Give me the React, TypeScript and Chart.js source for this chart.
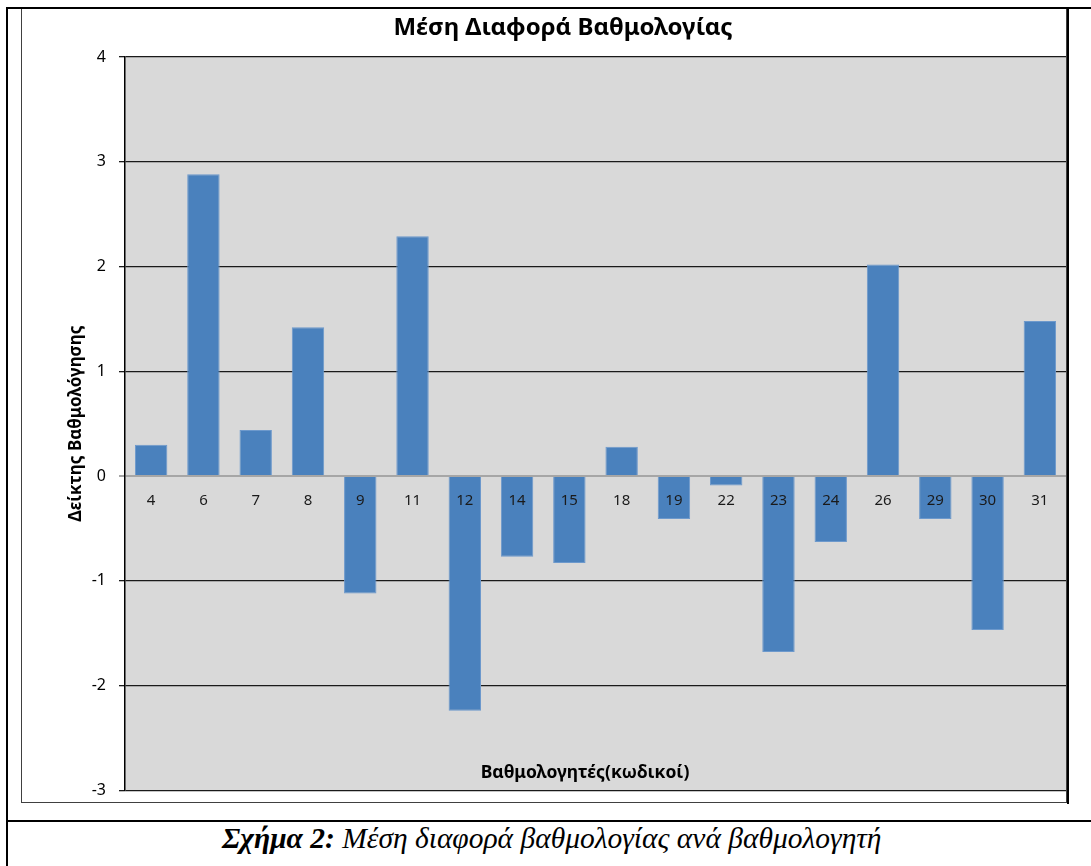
import React, { useEffect, useRef } from "react";
import { Chart, registerables } from "chart.js";

Chart.register(...registerables);

const categories = ["4", "6", "7", "8", "9", "11", "12", "14", "15", "18", "19", "22", "23", "24", "26", "29", "30", "31"];
const values = [0.3, 2.88, 0.44, 1.42, -1.12, 2.29, -2.24, -0.77, -0.83, 0.28, -0.41, -0.09, -1.68, -0.63, 2.02, -0.41, -1.47, 1.48];
const yMin = -3;
const yMax = 4;
const chartTitle = "Μέση Διαφορά Βαθμολογίας";
const xTitle = "Βαθμολογητές(κωδικοί)";
const yTitle = "Δείκτης Βαθμολόγησης";
const captionBold = "Σχήμα 2:";
const captionText = " Μέση διαφορά βαθμολογίας ανά βαθμολογητή";

const FONT = "'Noto Sans', 'Open Sans', sans-serif";

const decor = {
  id: "decor",
  beforeDraw(chart: any) {
    const { ctx, chartArea: a } = chart;
    ctx.save();
    ctx.fillStyle = "#d9d9d9";
    ctx.fillRect(a.left, a.top, a.right - a.left, a.bottom - a.top);
    ctx.restore();
  },
  afterDraw(chart: any) {
    const { ctx, chartArea: a } = chart;
    ctx.save();
    ctx.fillStyle = "#000";
    ctx.textAlign = "center";
    ctx.textBaseline = "alphabetic";
    ctx.font = `bold 24px ${FONT}`;
    ctx.fillText(chartTitle, 542, 27);
    ctx.font = `bold 17.5px ${FONT}`;
    ctx.textBaseline = "middle";
    ctx.fillText(xTitle, 564, a.bottom - 17);
    ctx.translate(55, (a.top + a.bottom) / 2);
    ctx.rotate(-Math.PI / 2);
    ctx.font = `bold 17px ${FONT}`;
    ctx.fillText(yTitle, 0, 0);
    ctx.restore();
  },
};

function ChartBox() {
  const ref = useRef<HTMLCanvasElement | null>(null);
  useEffect(() => {
    if (!ref.current) return;
    const chart = new Chart(ref.current, {
      type: "bar",
      data: {
        labels: categories,
        datasets: [
          {
            data: values,
            backgroundColor: "#4a81bd",
            borderColor: "#6d99cc",
            borderWidth: 1,
            barPercentage: 0.62,
            categoryPercentage: 1,
          },
        ],
      },
      plugins: [decor],
      options: {
        animation: false,
        responsive: false,
        maintainAspectRatio: false,
        layout: { padding: { top: 49, right: 1, bottom: 4, left: 0 } },
        plugins: {
          legend: { display: false },
          title: { display: false },
          tooltip: { enabled: false },
        },
        scales: {
          x: {
            type: "category",
            position: { y: 0 } as any,
            afterFit(scale: any) {
              scale.height = 0;
            },
            grid: { display: false, drawTicks: false },
            border: { display: false },
            ticks: {
              z: 1,
              color: "#1a1a1a",
              font: { family: FONT, size: 15 },
              padding: 16,
              maxRotation: 0,
              autoSkip: false,
            },
          },
          y: {
            min: yMin,
            max: yMax,
            afterFit(scale: any) {
              scale.width = 104;
            },
            grid: {
              color: (c: any) => (c.tick && c.tick.value === 0 ? "#a6a6a6" : "#1a1a1a"),
              lineWidth: (c: any) => (c.tick && c.tick.value === 0 ? 2 : 1.3),
              tickLength: 6,
              drawTicks: true,
            },
            border: { display: true, color: "#000", width: 1.5 },
            ticks: {
              stepSize: 1,
              color: "#000",
              padding: 13,
              font: { family: FONT, size: 16 },
            },
          },
        },
      },
    });
    return () => chart.destroy();
  }, []);
  return (
    <canvas
      ref={ref}
      width={1046}
      height={805}
      style={{ position: "absolute", left: 21, top: 8, width: 1046, height: 805 }}
    />
  );
}

export default function App() {
  const line = (l: number, t: number, w: number, h: number, c = "#000") => (
    <div style={{ position: "absolute", left: l, top: t, width: w, height: h, background: c }} />
  );
  return (
    <div style={{ position: "absolute", left: 0, top: 0, width: 1091, height: 866, background: "#fff", overflow: "hidden" }}>
      <ChartBox />
      <div
        style={{
          position: "absolute",
          left: 21,
          top: 8,
          width: 1046,
          height: 795,
          boxSizing: "border-box",
          border: "1.5px solid #404040",
        }}
      />
      {line(6, 7, 1085, 2)}
      {line(6, 7, 2, 859)}
      {line(1067, 7, 2, 797)}
      {line(6, 820, 1085, 2)}
      <div
        style={{
          position: "absolute",
          left: 222,
          top: 822,
          fontFamily: "'Liberation Serif', 'Times New Roman', serif",
          fontStyle: "italic",
          fontSize: 29.5,
          lineHeight: "32px",
          whiteSpace: "nowrap",
          color: "#000",
        }}
      >
        <b>{captionBold}</b>
        {captionText}
      </div>
    </div>
  );
}
